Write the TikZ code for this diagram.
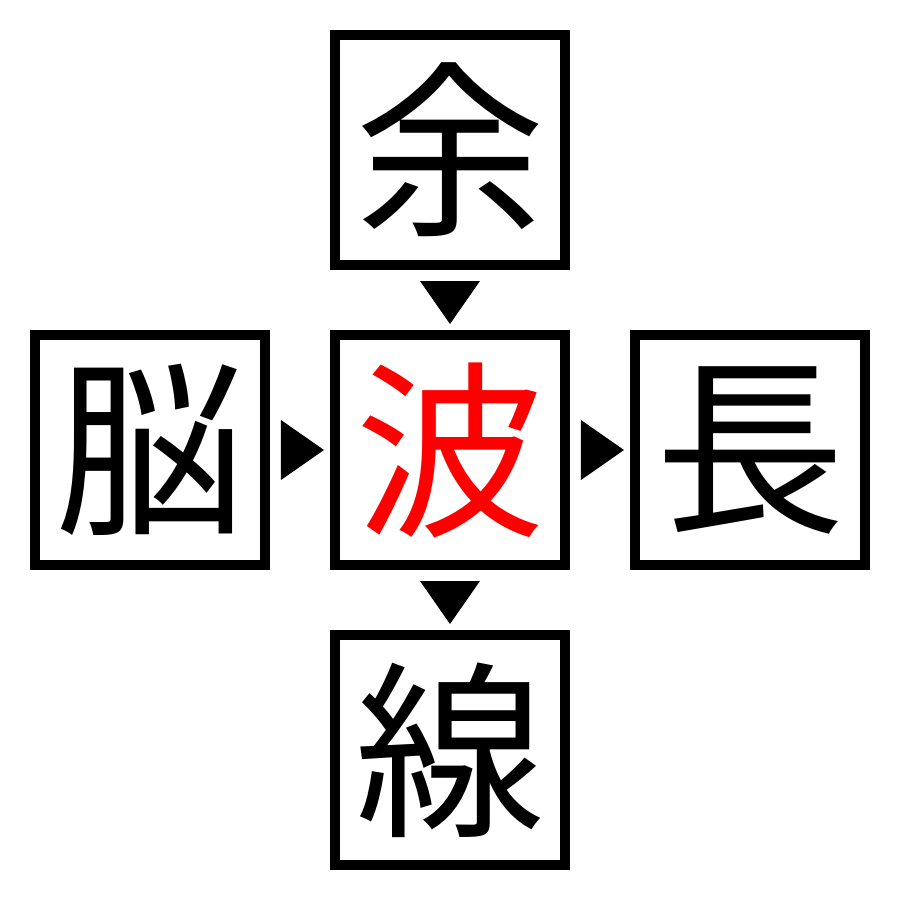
\documentclass[tikz,border=0pt]{standalone}
\usepackage{fontspec}
\newfontfamily\cjk{Noto Sans CJK JP}
\usetikzlibrary{calc}
\tikzset{
  kbox/.style={draw=black, line width=0.1cm, minimum size=2.3cm, inner sep=0pt, outer sep=0.05cm, font=\cjk\fontsize{54}{54}\selectfont},
  tri/.style={fill=black}
}
\begin{document}
\begin{tikzpicture}
\useasboundingbox (-4.5,-4.5) rectangle (4.5,4.5);
\node[kbox] (t) at (0,3) {余};
\node[kbox] (l) at (-3,0) {脳};
\node[kbox, text=red] (c) at (0,0) {波};
\node[kbox] (r) at (3,0) {長};
\node[kbox] (b) at (0,-3) {線};
% top -> center
\fill[tri] ($(t.south)+(-0.3,-0.11)$) -- ($(t.south)+(0.3,-0.11)$) -- ($(c.north)+(0,0.06)$) -- cycle;
% left -> center
\fill[tri] ($(l.east)+(0.11,0.3)$) -- ($(l.east)+(0.11,-0.3)$) -- ($(c.west)+(-0.06,0)$) -- cycle;
% center -> right
\fill[tri] ($(c.east)+(0.11,0.3)$) -- ($(c.east)+(0.11,-0.3)$) -- ($(r.west)+(-0.06,0)$) -- cycle;
% center -> bottom
\fill[tri] ($(c.south)+(-0.3,-0.11)$) -- ($(c.south)+(0.3,-0.11)$) -- ($(b.north)+(0,0.06)$) -- cycle;
\end{tikzpicture}
\end{document}
